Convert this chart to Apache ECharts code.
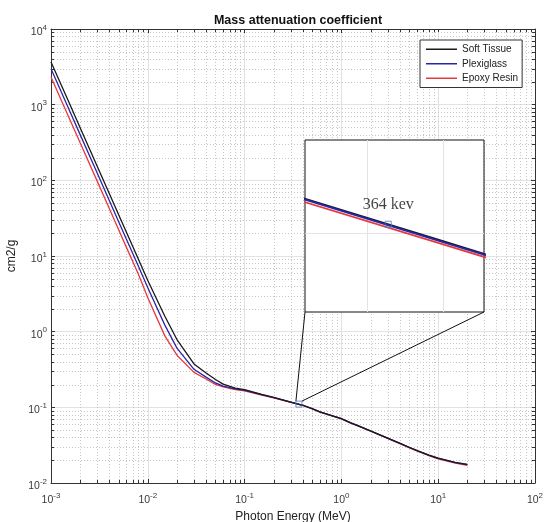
<!DOCTYPE html>
<html><head><meta charset="utf-8">
<script src="https://cdn.jsdelivr.net/npm/echarts@6/dist/echarts.min.js"></script>
<style>html,body{margin:0;padding:0;background:#fff}#c{width:546px;height:522px}</style>
</head><body><div id="c"></div><script>
// ---- data ----
const energy = [0.001, 0.0015, 0.002, 0.003, 0.004, 0.005, 0.006, 0.008, 0.01, 0.015, 0.02, 0.03, 0.04, 0.05, 0.06, 0.08, 0.1, 0.15, 0.2, 0.3, 0.4, 0.5, 0.6, 0.8, 1, 1.25, 1.5, 2, 3, 4, 5, 6, 8, 10, 15, 20];
const softTissue = [3660, 1140, 496, 154, 66.8, 35.0, 20.7, 9.04, 4.74, 1.60, 0.787, 0.374, 0.284, 0.233, 0.203, 0.180, 0.171, 0.148, 0.135, 0.117, 0.1065, 0.096, 0.0871, 0.0775, 0.0708, 0.0624, 0.0570, 0.0488, 0.0392, 0.0336, 0.0297, 0.0270, 0.0234, 0.0213, 0.0187, 0.0176];
const plexiglass = [2990, 925, 402, 125, 54.1, 28.4, 16.8, 7.32, 3.80, 1.22, 0.607, 0.318, 0.251, 0.210, 0.191, 0.175, 0.168, 0.147, 0.134, 0.1168, 0.1063, 0.0958, 0.0869, 0.0773, 0.0707, 0.0623, 0.0569, 0.0487, 0.0391, 0.0335, 0.0296, 0.0269, 0.0233, 0.0212, 0.0186, 0.0175];
const epoxyResin = [2320, 721, 314, 97.6, 42.3, 22.2, 13.1, 5.73, 2.80, 0.88, 0.489, 0.290, 0.237, 0.201, 0.186, 0.172, 0.165, 0.145, 0.133, 0.1162, 0.1058, 0.0953, 0.0865, 0.0769, 0.0703, 0.0619, 0.0565, 0.0484, 0.0388, 0.0332, 0.0293, 0.0266, 0.0230, 0.0209, 0.0183, 0.0171];
const seriesNames = ['Soft Tissue', 'Plexiglass', 'Epoxy Resin'];
const seriesColors = ['#1a1a1a', '#2626aa', '#e8383d'];
const xDecades = [-3, -2, -1, 0, 1, 2];
const yDecades = [-2, -1, 0, 1, 2, 3, 4];
const markerEnergy = 0.364;
const markerValue = 0.1103;
const markerLabel = '364 kev';
const insetXRange = [0.3093, 0.4269];
const insetYRange = [0.0906, 0.1292];
const titleText = 'Mass attenuation coefficient';
const xName = 'Photon Energy (MeV)';
const yName = 'cm2/g';

// ---- build ----
const FONT = 'Liberation Sans, Arial, sans-serif';
const AX = '#333';
const LBL = '#3a3a3a';
const allSeries = [softTissue, plexiglass, epoxyResin];
const pairs = vals => energy.map((e, i) => [e, vals[i]]);
const minorVals = decs => {
  const out = [];
  for (let i = 0; i < decs.length - 1; i++)
    for (let d = 2; d <= 9; d++) out.push(d * Math.pow(10, decs[i]));
  return out;
};
const minorX = minorVals(xDecades);
const minorY = minorVals(yDecades);
const xMin = Math.pow(10, xDecades[0]), xMax = Math.pow(10, xDecades[xDecades.length - 1]);
const yMin = Math.pow(10, yDecades[0]), yMax = Math.pow(10, yDecades[yDecades.length - 1]);

const powLabel = v => '{b|10}{s|' + Math.round(Math.log10(v)) + '}';
const rich = {
  b: {fontSize: 10.5, fontFamily: FONT, color: LBL, lineHeight: 12, verticalAlign: 'bottom'},
  s: {fontSize: 8, fontFamily: FONT, color: LBL, lineHeight: 8, padding: [0, 0, 6, 0], verticalAlign: 'bottom'}
};
const majorSplit = {show: true, lineStyle: {color: '#e2e2e2', width: 1}};

const chart = echarts.init(document.getElementById('c'), null, {renderer: 'canvas'});

const zMain = [4, 3, 2];
const mainLines = allSeries.map((vals, i) => ({
  type: 'line', name: seriesNames[i], xAxisIndex: 0, yAxisIndex: 0,
  data: pairs(vals), showSymbol: false, symbol: 'none',
  lineStyle: {color: seriesColors[i], width: 1.3}, itemStyle: {color: seriesColors[i]},
  z: zMain[i], silent: true
}));
const insetLines = allSeries.map((vals, i) => ({
  type: 'line', name: seriesNames[i], xAxisIndex: 2, yAxisIndex: 2,
  data: pairs(vals), showSymbol: false, symbol: 'none', clip: true,
  lineStyle: {color: seriesColors[i], width: 1.8}, itemStyle: {color: seriesColors[i]},
  z: i === 2 ? 5 : 6, silent: true
}));
const markerStyle = {color: 'rgba(0,0,0,0)', borderColor: '#4a78bd', borderWidth: 1};

const minorRender = isX => (params, api) => {
  const cs = params.coordSys;
  const v = api.value(isX ? 0 : 1);
  const children = [];
  if (isX) {
    const x = Math.round(api.coord([v, 1])[0]) + 0.5;
    children.push({type: 'line', shape: {x1: x, y1: cs.y, x2: x, y2: cs.y + cs.height}, style: {stroke: '#c6c6c6', lineWidth: 1, lineDash: [1, 2]}});
    children.push({type: 'line', shape: {x1: x, y1: cs.y + cs.height, x2: x, y2: cs.y + cs.height - 3}, style: {stroke: AX, lineWidth: 1}});
    children.push({type: 'line', shape: {x1: x, y1: cs.y, x2: x, y2: cs.y + 3}, style: {stroke: AX, lineWidth: 1}});
  } else {
    const y = Math.round(api.coord([1, v])[1]) + 0.5;
    children.push({type: 'line', shape: {x1: cs.x, y1: y, x2: cs.x + cs.width, y2: y}, style: {stroke: '#c6c6c6', lineWidth: 1, lineDash: [1, 2]}});
    children.push({type: 'line', shape: {x1: cs.x, y1: y, x2: cs.x + 3, y2: y}, style: {stroke: AX, lineWidth: 1}});
    children.push({type: 'line', shape: {x1: cs.x + cs.width, y1: y, x2: cs.x + cs.width - 3, y2: y}, style: {stroke: AX, lineWidth: 1}});
  }
  return {type: 'group', children};
};

const option = {
  animation: false,
  backgroundColor: '#fff',
  title: {
    text: titleText, left: 293, top: 9, textAlign: 'center',
    textStyle: {fontSize: 12.5, fontWeight: 'bold', fontFamily: FONT, color: '#111'}
  },
  legend: {
    data: seriesNames, orient: 'vertical', left: 420, top: 40,
    backgroundColor: '#fff', borderColor: '#333', borderWidth: 1, borderRadius: 0,
    padding: [3, 4, 3, 6], itemGap: 2, itemWidth: 31, itemHeight: 1.5, icon: 'rect',
    textStyle: {fontSize: 10, fontFamily: FONT, color: '#222', lineHeight: 12.5},
    selectedMode: false, z: 8
  },
  grid: [
    {left: 51, top: 29, right: 11, bottom: 39, show: false, containLabel: false, outerBoundsMode: 'none'},
    {left: 305, top: 140, width: 179, height: 172, show: true, backgroundColor: '#fff', borderColor: '#111', borderWidth: 1, z: 3, containLabel: false, outerBoundsMode: 'none'}
  ],
  xAxis: [
    {type: 'log', gridIndex: 0, min: xMin, max: xMax, position: 'bottom',
     name: xName, nameLocation: 'middle', nameGap: 28,
     nameTextStyle: {fontSize: 12, fontFamily: FONT, color: '#222'},
     axisLine: {show: true, lineStyle: {color: AX}},
     axisTick: {show: true, inside: true, length: 4, lineStyle: {color: AX}},
     axisLabel: {show: true, formatter: powLabel, rich, margin: 11, showMinLabel: true, showMaxLabel: true},
     splitLine: majorSplit},
    {type: 'log', gridIndex: 0, min: xMin, max: xMax, position: 'top',
     axisLine: {show: true, lineStyle: {color: AX}},
     axisTick: {show: true, inside: true, length: 4, lineStyle: {color: AX}},
     axisLabel: {show: false}, splitLine: {show: false}},
    {type: 'value', gridIndex: 1, min: insetXRange[0], max: insetXRange[1], splitNumber: 2,
     axisLine: {show: false}, axisTick: {show: false}, axisLabel: {show: false},
     splitLine: {show: true, showMinLine: false, showMaxLine: false, lineStyle: {color: '#e4e4e4'}}, z: 4}
  ],
  yAxis: [
    {type: 'log', gridIndex: 0, min: yMin, max: yMax, position: 'left',
     name: yName, nameLocation: 'middle', nameGap: 32,
     nameTextStyle: {fontSize: 12, fontFamily: FONT, color: '#222'},
     axisLine: {show: true, lineStyle: {color: AX}},
     axisTick: {show: true, inside: true, length: 4, lineStyle: {color: AX}},
     axisLabel: {show: true, formatter: powLabel, rich, margin: 4, padding: [5, 0, 0, 0], showMinLabel: true, showMaxLabel: true},
     splitLine: majorSplit},
    {type: 'log', gridIndex: 0, min: yMin, max: yMax, position: 'right',
     axisLine: {show: true, lineStyle: {color: AX}},
     axisTick: {show: true, inside: true, length: 4, lineStyle: {color: AX}},
     axisLabel: {show: false}, splitLine: {show: false}},
    {type: 'value', gridIndex: 1, min: insetYRange[0], max: insetYRange[1],
     axisLine: {show: false}, axisTick: {show: false}, axisLabel: {show: false}, splitLine: {show: false}},
    {type: 'value', gridIndex: 1, inverse: true, min: 0, max: 1, interval: 0.541,
     axisLine: {show: false}, axisTick: {show: false}, axisLabel: {show: false},
     splitLine: {show: true, showMinLine: false, showMaxLine: false, lineStyle: {color: '#e4e4e4'}}, z: 4}
  ],
  series: [
    ...mainLines,
    ...insetLines,
    {type: 'scatter', xAxisIndex: 0, yAxisIndex: 0, data: [[markerEnergy, markerValue]],
     symbol: 'rect', symbolSize: 6, itemStyle: markerStyle, z: 5, silent: true},
    {type: 'scatter', xAxisIndex: 2, yAxisIndex: 2, data: [[markerEnergy, markerValue]],
     symbol: 'rect', symbolSize: 6, itemStyle: markerStyle, z: 7, silent: true,
     label: {show: true, position: 'top', distance: 8, formatter: markerLabel,
       fontFamily: 'Liberation Serif, Times New Roman, serif', fontSize: 16, color: '#111'}},
    {type: 'custom', xAxisIndex: 0, yAxisIndex: 0, data: minorX.map(v => [v, 1]),
     renderItem: minorRender(true), z: 1, silent: true, clip: false},
    {type: 'custom', xAxisIndex: 0, yAxisIndex: 0, data: minorY.map(v => [1, v]),
     renderItem: minorRender(false), z: 1, silent: true, clip: false}
  ]
};
chart.setOption(option);

// connector lines from the marker to the inset's lower corners
const p = chart.convertToPixel({seriesIndex: 6}, [markerEnergy, markerValue]);
const bl = chart.convertToPixel({seriesIndex: 7}, [insetXRange[0], insetYRange[0]]);
const br = chart.convertToPixel({seriesIndex: 7}, [insetXRange[1], insetYRange[0]]);
chart.setOption({graphic: [
  {type: 'line', z: 10, silent: true, shape: {x1: p[0] - 3, y1: p[1] - 3, x2: bl[0], y2: bl[1]}, style: {stroke: '#111', lineWidth: 1}},
  {type: 'line', z: 10, silent: true, shape: {x1: p[0] + 3, y1: p[1] - 3, x2: br[0], y2: br[1]}, style: {stroke: '#111', lineWidth: 1}}
]});
</script></body></html>
